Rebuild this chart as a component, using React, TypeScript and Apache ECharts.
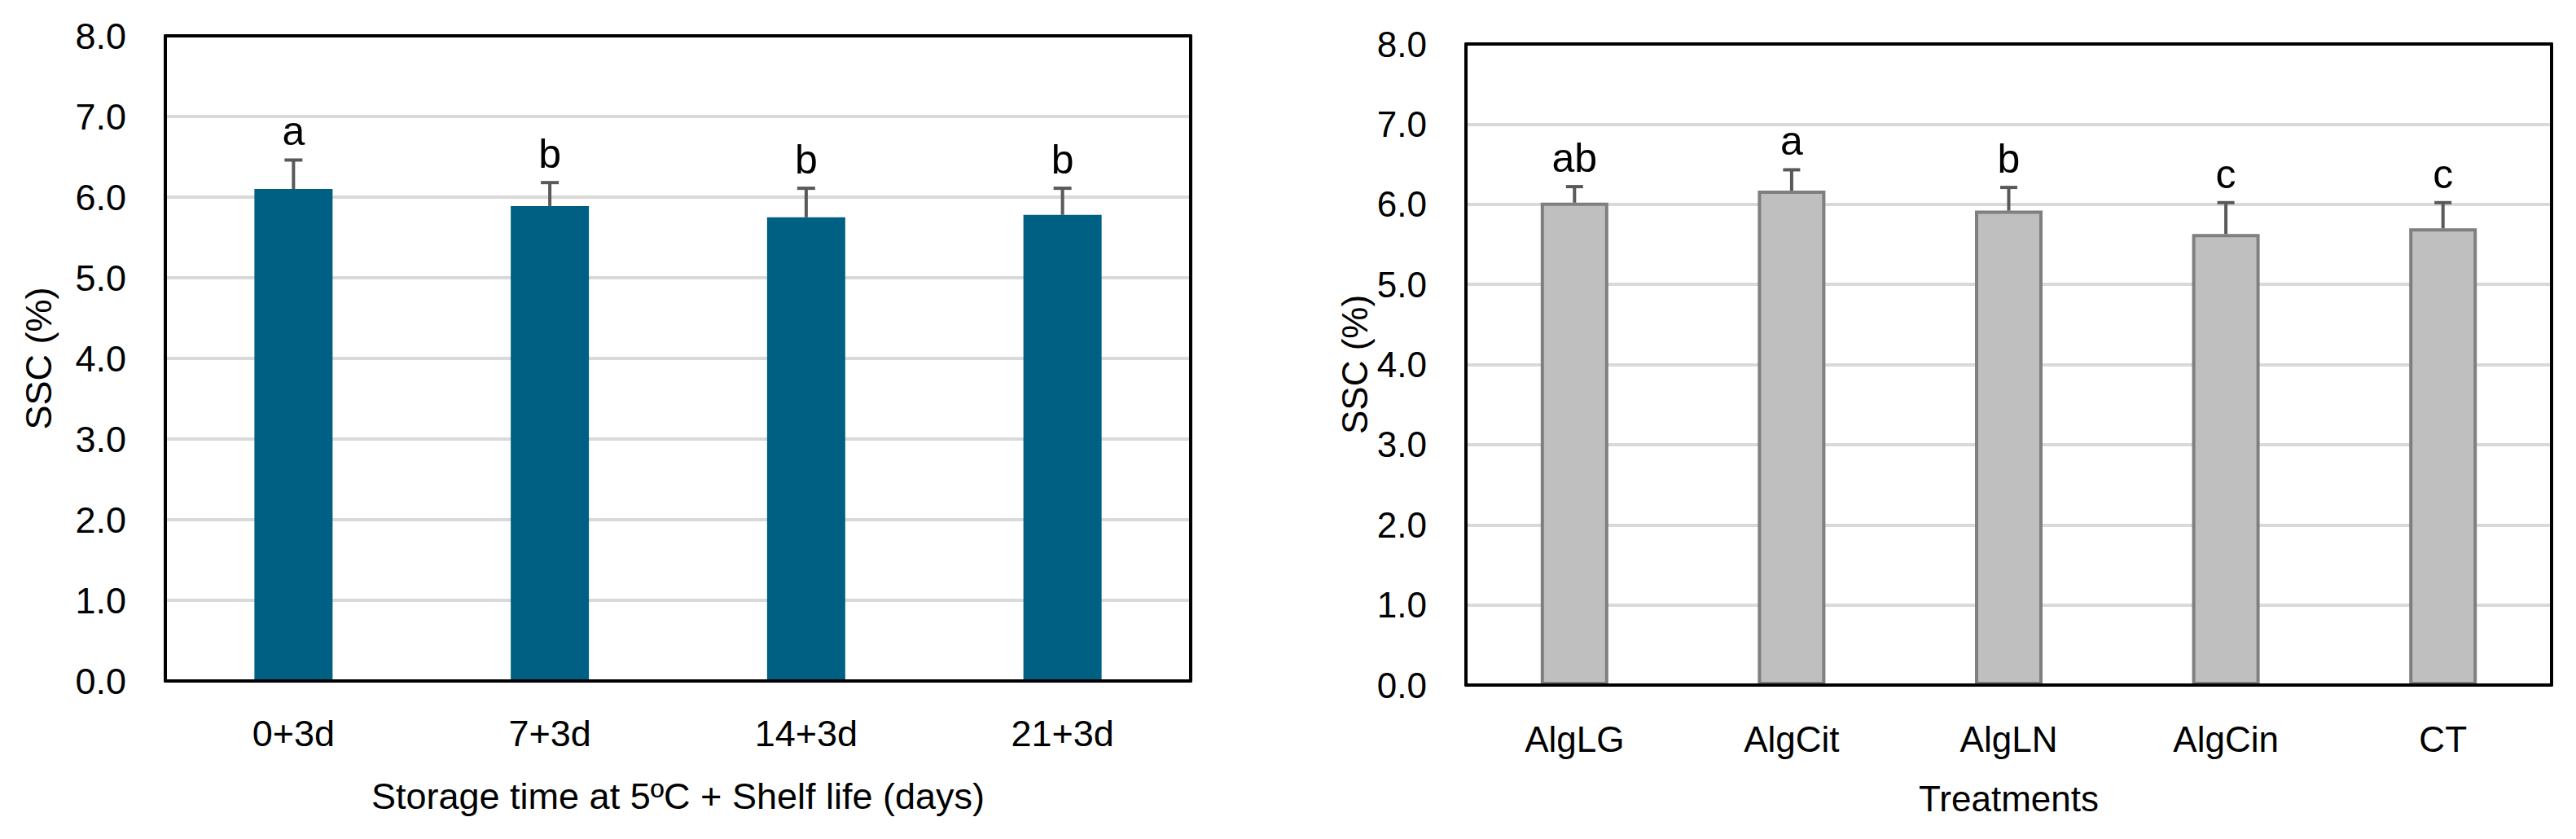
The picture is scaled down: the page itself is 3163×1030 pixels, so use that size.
import React, { useEffect, useRef } from "react";
import * as echarts from "echarts";

const leftCategories = ["0+3d", "7+3d", "14+3d", "21+3d"];
const leftMeans = [6.1, 5.89, 5.75, 5.78];
const leftErrors = [0.36, 0.29, 0.36, 0.33];
const leftLetters = ["a", "b", "b", "b"];

const rightCategories = ["AlgLG", "AlgCit", "AlgLN", "AlgCin", "CT"];
const rightMeans = [6.02, 6.17, 5.92, 5.63, 5.7];
const rightErrors = [0.2, 0.26, 0.29, 0.39, 0.32];
const rightLetters = ["ab", "a", "b", "c", "c"];

const yMin = 0;
const yMax = 8;
const yInterval = 1;

const FONT = "'Liberation Sans', Arial, sans-serif";

function errorSeries(idx: number, means: number[], errors: number[], letters: string[], capHalf: number) {
  return {
    type: "custom",
    xAxisIndex: idx,
    yAxisIndex: idx,
    z: 4,
    silent: true,
    encode: { x: 0, y: 1 },
    data: means.map((m, i) => [i, m, errors[i]]),
    renderItem: (params: any, api: any) => {
      const x = api.value(0);
      const m = api.value(1);
      const e = api.value(2);
      const p0 = api.coord([x, m]);
      const p1 = api.coord([x, m + e]);
      const stroke = { stroke: "#595959", lineWidth: 4 };
      return {
        type: "group",
        children: [
          { type: "line", shape: { x1: p0[0], y1: p0[1], x2: p1[0], y2: p1[1] }, style: stroke },
          { type: "line", shape: { x1: p1[0] - capHalf, y1: p1[1], x2: p1[0] + capHalf, y2: p1[1] }, style: stroke },
          {
            type: "text",
            x: p1[0],
            y: p1[1] - 10,
            style: {
              text: letters[params.dataIndex],
              fontSize: 50,
              fontFamily: FONT,
              fill: "#000",
              align: "center",
              verticalAlign: "bottom",
            },
          },
        ],
      };
    },
  };
}

function frameX(gridIndex: number, data: string[], position: string, labels: boolean, fontSize: number, labelMargin: number, name: string, nameGap: number) {
  return {
    type: "category",
    gridIndex,
    data,
    position,
    z: 6,
    axisLine: { show: true, onZero: false, lineStyle: { color: "#000", width: 4 } },
    axisTick: { show: false },
    axisLabel: { show: labels, fontSize, fontFamily: FONT, color: "#000", margin: labelMargin },
    splitLine: { show: false },
    name: labels ? name : "",
    nameLocation: "middle",
    nameGap,
    nameTextStyle: { fontSize, fontFamily: FONT, color: "#000" },
  };
}

function frameY(gridIndex: number, position: string, labels: boolean, fontSize: number, labelMargin: number, nameGap: number) {
  return {
    type: "value",
    gridIndex,
    position,
    min: yMin,
    max: yMax,
    interval: yInterval,
    z: labels ? 0 : 6,
    axisLine: { show: !labels, onZero: false, lineStyle: { color: "#000", width: 4 } },
    axisTick: { show: false },
    axisLabel: {
      show: labels,
      fontSize,
      fontFamily: FONT,
      color: "#000",
      margin: labelMargin,
      formatter: (v: number) => v.toFixed(1),
    },
    splitLine: labels
      ? { show: true, showMinLine: false, showMaxLine: false, lineStyle: { color: "#d9d9d9", width: 4 } }
      : { show: false },
    name: labels ? "SSC (%)" : "",
    nameLocation: "middle",
    nameGap,
    nameTextStyle: { fontSize, fontFamily: FONT, color: "#000" },
  };
}

function leftAxisLine(gridIndex: number) {
  return {
    type: "value",
    gridIndex,
    position: "left",
    min: yMin,
    max: yMax,
    interval: yInterval,
    z: 6,
    axisLine: { show: true, onZero: false, lineStyle: { color: "#000", width: 4 } },
    axisTick: { show: false },
    axisLabel: { show: false },
    splitLine: { show: false },
  };
}

export default function App() {
  const ref = useRef<HTMLDivElement>(null);

  useEffect(() => {
    document.body.style.margin = "0";
    if (!ref.current) return;
    const chart = echarts.init(ref.current, null, { renderer: "svg" });
    chart.setOption({
      animation: false,
      backgroundColor: "#fff",
      grid: [
        { left: 203, top: 44, width: 1259, height: 792 },
        { left: 1800, top: 54, width: 1333, height: 787 },
      ],
      xAxis: [
        frameX(0, leftCategories, "bottom", true, 45, 42, "Storage time at 5ºC + Shelf life (days)", 119),
        frameX(0, leftCategories, "top", false, 45, 0, "", 0),
        frameX(1, rightCategories, "bottom", true, 44, 44, "Treatments", 117),
        frameX(1, rightCategories, "top", false, 44, 0, "", 0),
      ],
      yAxis: [
        frameY(0, "left", true, 45, 48, 133),
        frameY(0, "right", false, 45, 0, 0),
        frameY(1, "left", true, 44, 48, 115),
        frameY(1, "right", false, 44, 0, 0),
        leftAxisLine(0),
        leftAxisLine(1),
      ],
      series: [
        {
          type: "bar",
          xAxisIndex: 0,
          yAxisIndex: 0,
          data: leftMeans,
          barWidth: 96,
          itemStyle: { color: "#006083" },
          z: 2,
        },
        errorSeries(0, leftMeans, leftErrors, leftLetters, 11),
        {
          type: "bar",
          xAxisIndex: 2,
          yAxisIndex: 2,
          data: rightMeans,
          barWidth: 83,
          itemStyle: { color: "#bfbfbf", borderColor: "#7f7f7f", borderWidth: 4 },
          z: 2,
        },
        errorSeries(2, rightMeans, rightErrors, rightLetters, 10.5),
      ],
    });
    return () => chart.dispose();
  }, []);

  return <div ref={ref} style={{ width: 3163, height: 1030 }} />;
}
